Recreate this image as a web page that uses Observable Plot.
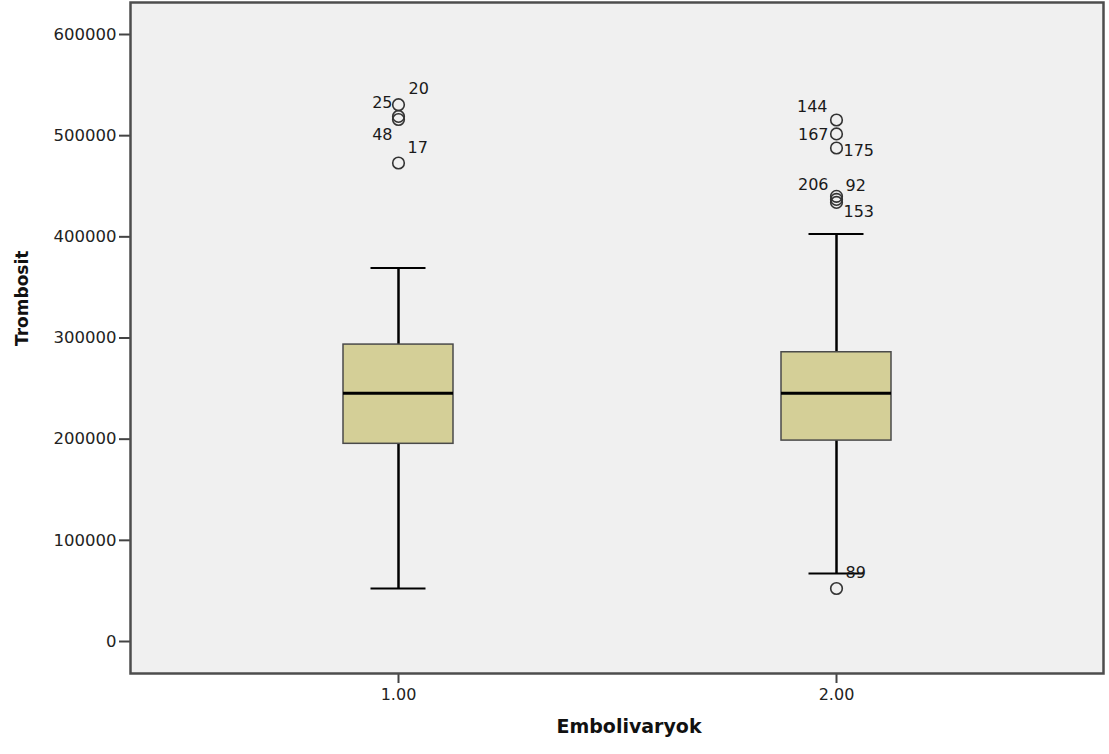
<!DOCTYPE html>
<html>
<head>
<meta charset="utf-8">
<script src="https://cdn.jsdelivr.net/npm/d3@7"></script>
<script src="https://cdn.jsdelivr.net/npm/@observablehq/plot@0.6"></script>
<style>
  html, body { margin: 0; padding: 0; background: #ffffff; }
</style>
</head>
<body>
<div id="chart"></div>
<script>
// ---- Data ----
const categories = ["1.00", "2.00"];
const q1 = [195400, 198600];
const median = [245400, 245400];
const q3 = [293500, 285900];
const whiskerLow = [52400, 67200];
const whiskerHigh = [369300, 402900];

const outlierGroup = ["1.00", "1.00", "1.00", "1.00", "2.00", "2.00", "2.00", "2.00", "2.00", "2.00", "2.00"];
const outlierValue = [530600, 519000, 516000, 473000, 515500, 501700, 487800, 440000, 437000, 434000, 52400];
const outlierCase = ["20", "25", "48", "17", "144", "167", "175", "206", "92", "153", "89"];

const yTicks = [0, 100000, 200000, 300000, 400000, 500000, 600000];

// ---- Label placement (styling only) ----
const labelPlacement = {
  "20":  {dx: 10, dy: -16, anchor: "start"},
  "25":  {dx: -6, dy: -14, anchor: "end"},
  "48":  {dx: -6, dy: 15, anchor: "end"},
  "17":  {dx: 9, dy: -15, anchor: "start"},
  "144": {dx: -9, dy: -13, anchor: "end"},
  "167": {dx: -8, dy: 1, anchor: "end"},
  "175": {dx: 7, dy: 3, anchor: "start"},
  "206": {dx: -8, dy: -11, anchor: "end"},
  "92":  {dx: 9, dy: -14, anchor: "start"},
  "153": {dx: 7, dy: 9, anchor: "start"},
  "89":  {dx: 9, dy: -16, anchor: "start"}
};

const boxes = categories.map((c, i) => ({
  cat: c, q1: q1[i], median: median[i], q3: q3[i], lo: whiskerLow[i], hi: whiskerHigh[i]
}));
const outliers = outlierCase.map((id, i) => ({cat: outlierGroup[i], value: outlierValue[i], id}));

const labelMarks = outliers.map(o => {
  const p = labelPlacement[o.id];
  return Plot.text([o], {
    x: "cat", y: "value", text: "id",
    dx: p.dx, dy: p.dy, textAnchor: p.anchor,
    fontSize: 16, fill: "#1a1a1a"
  });
});

const chart = Plot.plot({
  width: 1109,
  height: 754,
  marginLeft: 130,
  marginRight: 6,
  marginTop: 2,
  marginBottom: 81,
  style: {fontFamily: "'DejaVu Sans', Verdana, sans-serif", fontSize: "16px", color: "#222", background: "#ffffff", overflow: "visible"},
  x: {type: "band", domain: categories, range: [343, 891], paddingInner: 0.749, paddingOuter: 0, label: null},
  y: {domain: [0, 600000], range: [641, 34], label: null},
  marks: [
    Plot.frame({fill: "#f0f0f0", stroke: null}),
    Plot.axisY({ticks: yTicks, tickFormat: d => String(d), tickSize: 11, tickPadding: 3, fontSize: 16.5, stroke: "#444", strokeWidth: 2, label: null}),
    Plot.axisX({tickSize: 10, tickPadding: 5, fontSize: 16, stroke: "#444", strokeWidth: 2, label: null}),
    Plot.ruleX(boxes, {x: "cat", y1: "lo", y2: "q1", stroke: "#000", strokeWidth: 2.5}),
    Plot.ruleX(boxes, {x: "cat", y1: "q3", y2: "hi", stroke: "#000", strokeWidth: 2.5}),
    Plot.tickY(boxes, {x: "cat", y: "lo", insetLeft: 27.5, insetRight: 27.5, stroke: "#000", strokeWidth: 2}),
    Plot.tickY(boxes, {x: "cat", y: "hi", insetLeft: 27.5, insetRight: 27.5, stroke: "#000", strokeWidth: 2}),
    Plot.barY(boxes, {x: "cat", y1: "q1", y2: "q3", fill: "#d4cf97", stroke: "#4a4a4a", strokeWidth: 1.5}),
    Plot.tickY(boxes, {x: "cat", y: "median", stroke: "#000", strokeWidth: 3}),
    Plot.dot(outliers, {x: "cat", y: "value", r: 5.8, stroke: "#333", strokeWidth: 1.6, fill: "none"}),
    ...labelMarks,
    Plot.frame({stroke: "#4d4d4d", strokeWidth: 2.5, fill: null}),
    Plot.text(["Trombosit"], {frameAnchor: "left", dx: -108, dy: 8, rotate: -90, fontSize: 17, fontWeight: "bold", fill: "#111"}),
    Plot.text(["Embolivaryok"], {frameAnchor: "bottom", dx: 12, dy: 59, fontSize: 19, fontWeight: "bold", fill: "#111"})
  ]
});
document.getElementById("chart").appendChild(chart);
</script>
</body>
</html>
